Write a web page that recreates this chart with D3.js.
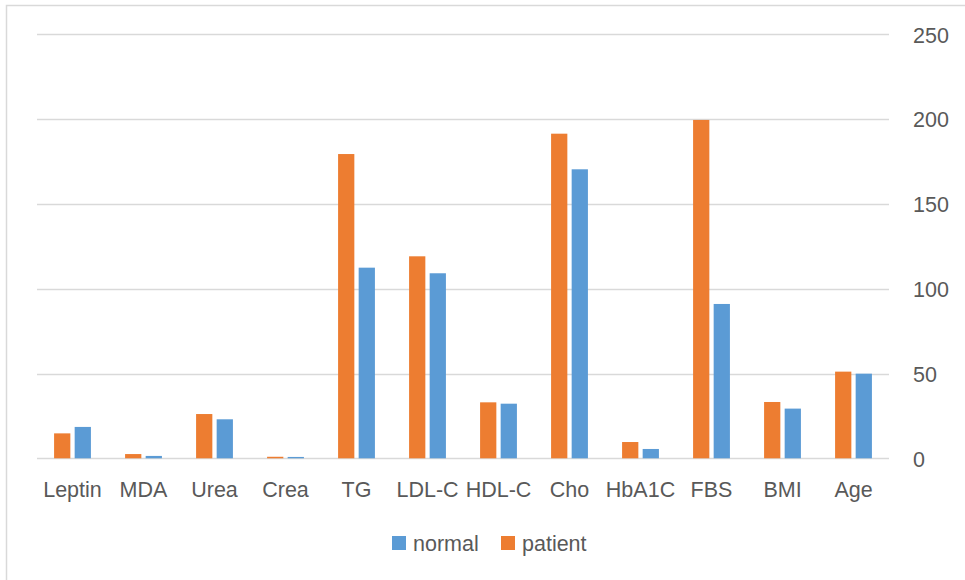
<!DOCTYPE html>
<html>
<head>
<meta charset="utf-8">
<script src="https://cdn.jsdelivr.net/npm/d3@7"></script>
<style>
  html, body { margin: 0; padding: 0; background: #fff; }
  svg { display: block; }
  text { font-family: "Liberation Sans", Arial, sans-serif; fill: #595959; }
</style>
</head>
<body>
<svg id="chart" width="965" height="580"></svg>
<script>
// Measured markers, patient vs. normal group
const categories = ["Leptin", "MDA", "Urea", "Crea", "TG", "LDL-C", "HDL-C", "Cho", "HbA1C", "FBS", "BMI", "Age"];
const patientValues = [14.7, 2.5, 26.1, 0.9, 179.4, 119.1, 33.0, 191.4, 9.6, 199.5, 33.2, 51.1];
const normalValues  = [18.5, 1.4, 23.0, 0.8, 112.4, 109.1, 32.2, 170.4, 5.5, 91.0, 29.3, 49.9];
const yTicks = [0, 50, 100, 150, 200, 250];

// Bars are drawn patient first, normal second; the legend lists normal first
const seriesOrder = ["patient", "normal"];
const legendOrder = ["normal", "patient"];
const seriesValues = { patient: patientValues, normal: normalValues };
const colors = { patient: "#ED7D31", normal: "#5B9BD5" };

const svg = d3.select("#chart");

// Outer chart frame
svg.append("rect")
  .attr("x", 6.5).attr("y", 5.5)
  .attr("width", 970).attr("height", 590)
  .attr("fill", "none")
  .attr("stroke", "#D9D9D9")
  .attr("stroke-width", 1.5);

const plot = { left: 37, right: 889, top: 34.3, bottom: 458.3 };

const x = d3.scaleBand()
  .domain(categories)
  .range([plot.left, plot.right])
  .paddingInner(0)
  .paddingOuter(0);

const xInner = d3.scaleBand()
  .domain(seriesOrder)
  .range([0, x.bandwidth()])
  .paddingInner(0.21)
  .paddingOuter(0.83);

const y = d3.scaleLinear()
  .domain([0, 250])
  .range([plot.bottom, plot.top]);

// Horizontal gridlines
svg.append("g")
  .selectAll("line")
  .data(yTicks)
  .join("line")
  .attr("x1", plot.left).attr("x2", plot.right)
  .attr("y1", d => Math.round(y(d)) + 0.5)
  .attr("y2", d => Math.round(y(d)) + 0.5)
  .attr("stroke", "#D9D9D9")
  .attr("stroke-width", 1.5);

// Right-hand value axis labels
const yAxis = d3.axisRight(y).tickValues(yTicks).tickSize(0).tickPadding(0);
const yAxisG = svg.append("g")
  .attr("transform", `translate(913,0)`)
  .call(yAxis);
yAxisG.select(".domain").remove();
yAxisG.selectAll("text")
  .attr("x", 0)
  .attr("dy", "0.36em")
  .attr("text-anchor", "start")
  .style("font-family", "'Liberation Sans', Arial, sans-serif")
  .style("font-size", "21.5px")
  .style("fill", "#595959");

// Grouped bars
const groups = svg.append("g")
  .selectAll("g")
  .data(categories)
  .join("g")
  .attr("transform", d => `translate(${x(d)},0)`);

groups.selectAll("rect")
  .data((d, i) => seriesOrder.map(s => ({ series: s, value: seriesValues[s][i] })))
  .join("rect")
  .attr("x", d => xInner(d.series))
  .attr("width", xInner.bandwidth())
  .attr("y", d => y(d.value))
  .attr("height", d => y(0) - y(d.value))
  .attr("fill", d => colors[d.series]);

// Category axis labels
const xAxis = d3.axisBottom(x).tickSize(0).tickPadding(0);
const xAxisG = svg.append("g")
  .attr("transform", `translate(0,${plot.bottom})`)
  .call(xAxis);
xAxisG.select(".domain").remove();
xAxisG.selectAll("text")
  .attr("y", 0)
  .attr("dy", "39px")
  .style("font-family", "'Liberation Sans', Arial, sans-serif")
  .style("font-size", "21.5px")
  .style("fill", "#595959");

// Legend
const legendItems = [
  { key: legendOrder[0], x: 392 },
  { key: legendOrder[1], x: 501 }
];
const legend = svg.append("g");
const li = legend.selectAll("g")
  .data(legendItems)
  .join("g")
  .attr("transform", d => `translate(${d.x},536)`);
li.append("rect")
  .attr("width", 14).attr("height", 14)
  .attr("fill", d => colors[d.key]);
li.append("text")
  .attr("x", 21)
  .attr("y", 7)
  .attr("dy", "0.36em")
  .style("font-size", "21.5px")
  .text(d => d.key);
</script>
</body>
</html>
